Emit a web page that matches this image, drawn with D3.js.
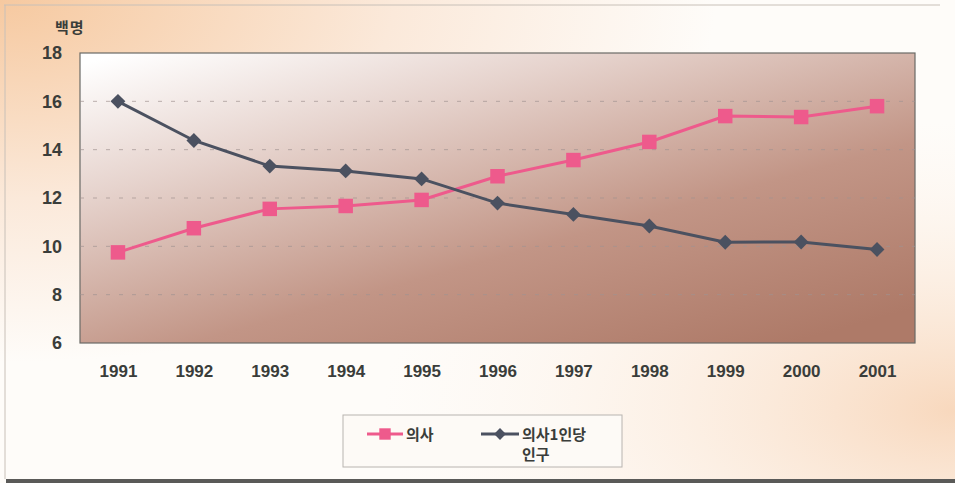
<!DOCTYPE html>
<html>
<head>
<meta charset="utf-8">
<script src="https://cdn.jsdelivr.net/npm/d3@7"></script>
<style>
  body { margin: 0; background: #fff; }
  text { font-family: "Liberation Sans", Arial, sans-serif; }
  .kr { font-family: "Noto Sans CJK KR", "Noto Sans", sans-serif; }
</style>
</head>
<body>
<div id="chart-area"></div>
<script>
// data
const years = ['1991','1992','1993','1994','1995','1996','1997','1998','1999','2000','2001'];
const doctors = [9.75, 10.75, 11.55, 11.67, 11.92, 12.9, 13.57, 14.32, 15.39, 15.35, 15.8];
const perDoctor = [16.0, 14.38, 13.32, 13.12, 12.79, 11.79, 11.32, 10.84, 10.17, 10.18, 9.87];
const yTicks = [6, 8, 10, 12, 14, 16, 18];

const W = 955, H = 483;
const MARGIN = { LEFT: 80, RIGHT: 40, TOP: 53, BOTTOM: 140 };
const WIDTH = W - MARGIN.LEFT - MARGIN.RIGHT;
const HEIGHT = H - MARGIN.TOP - MARGIN.BOTTOM;

const svg = d3.select('#chart-area').append('svg')
  .attr('width', W)
  .attr('height', H);

const defs = svg.append('defs');

// page background: peach corners fading to white
const bg1 = defs.append('radialGradient').attr('id', 'bgTL')
  .attr('cx', 0).attr('cy', 0).attr('r', 0.75);
bg1.append('stop').attr('offset', '0%').attr('stop-color', '#f6c9a0');
bg1.append('stop').attr('offset', '55%').attr('stop-color', '#fbe9da');
bg1.append('stop').attr('offset', '100%').attr('stop-color', '#fefcf9');

const bg2 = defs.append('radialGradient').attr('id', 'bgBR')
  .attr('cx', 1).attr('cy', 0.85).attr('r', 0.6);
bg2.append('stop').attr('offset', '0%').attr('stop-color', '#f8d8bd').attr('stop-opacity', 1);
bg2.append('stop').attr('offset', '100%').attr('stop-color', '#fdf3ea').attr('stop-opacity', 0);

// plot fill: white top-left to brown bottom-right
const pg = defs.append('linearGradient').attr('id', 'plotFill')
  .attr('x1', 0.05).attr('y1', 0).attr('x2', 0.85).attr('y2', 1);
pg.append('stop').attr('offset', '0%').attr('stop-color', '#ffffff');
pg.append('stop').attr('offset', '28%').attr('stop-color', '#e6d3cd');
pg.append('stop').attr('offset', '65%').attr('stop-color', '#c29586');
pg.append('stop').attr('offset', '100%').attr('stop-color', '#ae7a68');

svg.append('rect').attr('width', W).attr('height', H).attr('fill', '#fefcf9');
svg.append('rect').attr('width', W).attr('height', H).attr('fill', 'url(#bgTL)');
svg.append('rect').attr('width', W).attr('height', H).attr('fill', 'url(#bgBR)');

// frame lines
svg.append('line').attr('x1', 4).attr('x2', 940).attr('y1', 5).attr('y2', 5)
  .attr('stroke', '#c8c0b8').attr('stroke-width', 1);
svg.append('line').attr('x1', 5).attr('x2', 5).attr('y1', 5).attr('y2', 479)
  .attr('stroke', '#c8c0b8').attr('stroke-width', 1);
svg.append('rect').attr('x', 6).attr('y', 479).attr('width', W).attr('height', 4)
  .attr('fill', '#5a5a58');

const g = svg.append('g')
  .attr('transform', `translate(${MARGIN.LEFT},${MARGIN.TOP})`);

const x = d3.scalePoint()
  .domain(years)
  .range([0, WIDTH])
  .padding(0.5);

const y = d3.scaleLinear()
  .domain([6, 18])
  .range([HEIGHT, 0]);

g.append('rect')
  .attr('width', WIDTH).attr('height', HEIGHT)
  .attr('fill', 'url(#plotFill)')
  .attr('stroke', '#6a6a66').attr('stroke-width', 1.2);

// dashed grid
g.selectAll('.grid').data(yTicks.filter(d => d > 6 && d < 18))
  .enter().append('line')
  .attr('class', 'grid')
  .attr('x1', 0).attr('x2', WIDTH)
  .attr('y1', d => y(d)).attr('y2', d => y(d))
  .attr('stroke', '#a09490').attr('stroke-dasharray', '4,9').attr('stroke-width', 0.7);

// axes
const yAxis = g.append('g')
  .call(d3.axisLeft(y).tickValues(yTicks).tickSize(0).tickPadding(18));
yAxis.select('.domain').remove();
yAxis.selectAll('text')
  .attr('font-size', 18).attr('font-weight', 'bold').attr('fill', '#3a3d3a');

const xAxis = g.append('g')
  .attr('transform', `translate(0,${HEIGHT})`)
  .call(d3.axisBottom(x).tickSize(0).tickPadding(22));
xAxis.select('.domain').remove();
xAxis.selectAll('text')
  .attr('font-size', 17).attr('font-weight', 'bold').attr('fill', '#3a3d3a');

svg.append('text').attr('class', 'kr')
  .attr('x', 55).attr('y', 33)
  .attr('font-size', 15).attr('font-weight', 'bold').attr('fill', '#3a3d3a')
  .attr('letter-spacing', 1)
  .text('백명');

const PINK = '#ee5a8c';
const DARK = '#4b5160';

const line = d3.line().x((d, i) => x(years[i])).y(d => y(d));

g.append('path').datum(doctors)
  .attr('d', line).attr('fill', 'none')
  .attr('stroke', PINK).attr('stroke-width', 3);

g.append('path').datum(perDoctor)
  .attr('d', line).attr('fill', 'none')
  .attr('stroke', DARK).attr('stroke-width', 3);

const sq = d3.symbol().type(d3.symbolSquare).size(210);
const dia = d3.symbol().type(d3.symbolSquare).size(110);

g.selectAll('.sq').data(doctors).enter().append('path')
  .attr('class', 'sq')
  .attr('d', sq)
  .attr('transform', (d, i) => `translate(${x(years[i])},${y(d)})`)
  .attr('fill', PINK);

g.selectAll('.dia').data(perDoctor).enter().append('path')
  .attr('class', 'dia')
  .attr('d', dia)
  .attr('transform', (d, i) => `translate(${x(years[i])},${y(d)}) rotate(45)`)
  .attr('fill', DARK);

// legend
const lg = svg.append('g').attr('transform', 'translate(343,415)');
lg.append('rect').attr('width', 279).attr('height', 52)
  .attr('fill', '#fdfaf6').attr('stroke', '#b8b4b0').attr('stroke-width', 1);

lg.append('line').attr('x1', 24).attr('x2', 60).attr('y1', 19).attr('y2', 19)
  .attr('stroke', PINK).attr('stroke-width', 3);
lg.append('path').attr('d', d3.symbol().type(d3.symbolSquare).size(130))
  .attr('transform', 'translate(42,19)').attr('fill', PINK);
lg.append('text').attr('class', 'kr')
  .attr('x', 63).attr('y', 25)
  .attr('font-size', 15).attr('font-weight', 'bold').attr('fill', '#3a3d3a')
  .text('의사');

lg.append('line').attr('x1', 138).attr('x2', 176).attr('y1', 19).attr('y2', 19)
  .attr('stroke', DARK).attr('stroke-width', 3);
lg.append('path').attr('d', d3.symbol().type(d3.symbolSquare).size(70))
  .attr('transform', 'translate(157,19) rotate(45)').attr('fill', DARK);
lg.append('text').attr('class', 'kr')
  .attr('x', 179).attr('y', 25)
  .attr('font-size', 15).attr('font-weight', 'bold').attr('fill', '#3a3d3a')
  .text('의사1인당');
lg.append('text').attr('class', 'kr')
  .attr('x', 179).attr('y', 45)
  .attr('font-size', 15).attr('font-weight', 'bold').attr('fill', '#3a3d3a')
  .text('인구');
</script>
</body>
</html>
